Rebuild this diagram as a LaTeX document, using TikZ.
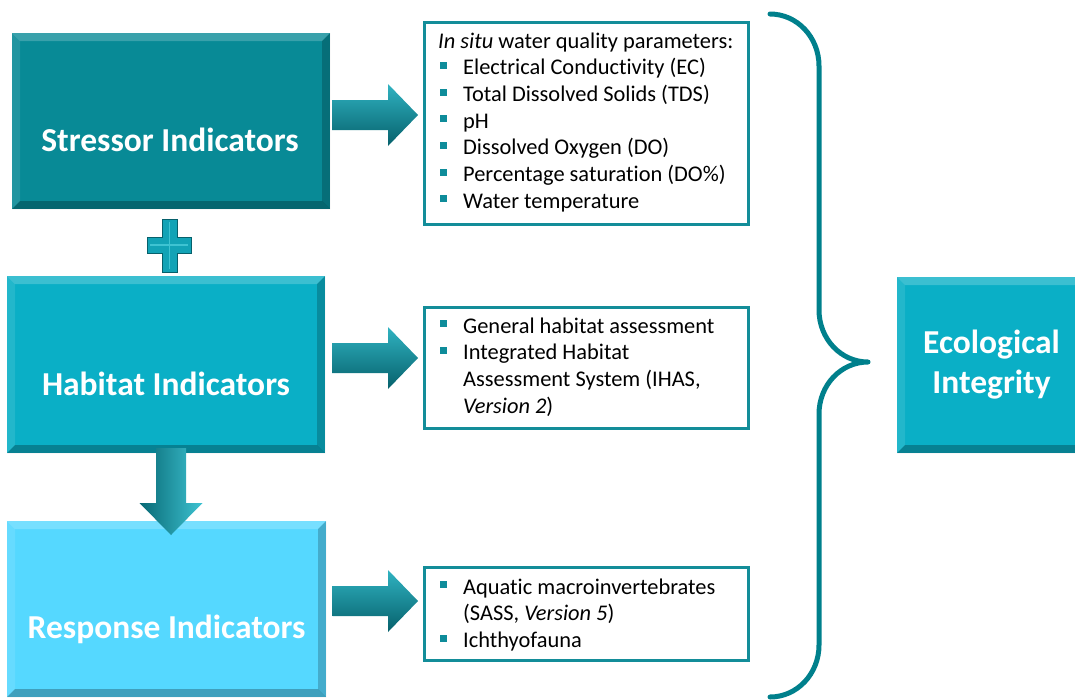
\documentclass[tikz,border=0pt]{standalone}
\usepackage{fontspec}
\setmainfont{Carlito}[Ligatures=NoCommon]
\usetikzlibrary{calc}
\definecolor{stressC}{HTML}{088A96}
\definecolor{habC}{HTML}{0AAFC6}
\definecolor{respC}{HTML}{55D8FF}
\definecolor{ecoC}{HTML}{0AAFC6}
\definecolor{arrC}{HTML}{0E8C9A}
\definecolor{arrL}{HTML}{3EC3D2}
\definecolor{arrD}{HTML}{06606B}
\definecolor{brdC}{HTML}{138D99}
\definecolor{braceC}{HTML}{00808C}
\definecolor{bulC}{HTML}{0E8C9A}
\definecolor{plusC}{HTML}{12A3B6}
\newcommand\itm{\makebox[25pt][l]{\hspace*{1.5pt}\textcolor{bulC}{\rule[6pt]{7pt}{7pt}}}}
\newcommand\cnt{\hspace*{25pt}}
\newcommand\nolig{\kern0pt }
\newcommand\rightblock[2]{%
  \path[rarrow] let \p1=#1, \p2=#2 in
  (\x1,\y1+15pt) -- (\x2-35pt,\y1+15pt) -- (\x2-35pt,\y1+31pt) -- (\x2-5pt,\y1)
  -- (\x2-35pt,\y1-31pt) -- (\x2-35pt,\y1-15pt) -- (\x1,\y1-15pt) -- cycle;}
\newcommand\downblock[2]{%
  \path[darrow] let \p1=#1, \p2=#2 in
  (\x1-15pt,\y1) -- (\x1+15pt,\y1) -- (\x1+15pt,\y2+18pt) -- (\x1+31.5pt,\y2+18pt)
  -- (\x1,\y2-14pt) -- (\x1-31.5pt,\y2+18pt) -- (\x1-15pt,\y2+18pt) -- cycle;}
\tikzset{
  bevelbox/.style={fill=#1, draw=none, inner sep=0pt, outer sep=0pt,
    path picture={
      \fill[white,opacity=.2] (path picture bounding box.north west) -- (path picture bounding box.north east)
        -- ([shift={(-8pt,-8pt)}]path picture bounding box.north east) -- ([shift={(8pt,-8pt)}]path picture bounding box.north west) -- cycle;
      \fill[white,opacity=.1] (path picture bounding box.north west) -- ([shift={(8pt,-8pt)}]path picture bounding box.north west)
        -- ([shift={(8pt,8pt)}]path picture bounding box.south west) -- (path picture bounding box.south west) -- cycle;
      \fill[black,opacity=.2] (path picture bounding box.north east) -- (path picture bounding box.south east)
        -- ([shift={(-8pt,8pt)}]path picture bounding box.south east) -- ([shift={(-8pt,-8pt)}]path picture bounding box.north east) -- cycle;
      \fill[black,opacity=.26] (path picture bounding box.south west) -- (path picture bounding box.south east)
        -- ([shift={(-8pt,8pt)}]path picture bounding box.south east) -- ([shift={(8pt,8pt)}]path picture bounding box.south west) -- cycle;
    }},
  boxlabel/.style={text=white, font=\fontsize{33.5}{40}\selectfont\bfseries, inner sep=0pt, align=center},
  listbox/.style={draw=brdC, line width=3pt, fill=white, inner sep=0pt},
  listtext/.style={font=\fontsize{22.4}{26.7}\selectfont, text=black, inner sep=0pt, align=left, anchor=north west},
  rarrow/.style={top color=arrL!70!arrC, middle color=arrC, bottom color=arrD},
  darrow/.style={left color=arrD!80!arrC, middle color=arrC, right color=arrL},
  bracestyle/.style={draw=braceC, line width=5pt, line cap=round, line join=round},
}
\begin{document}
\begin{tikzpicture}[x=1pt,y=-1pt]
\useasboundingbox (0,0) rectangle (1075,699);
\clip (0,0) rectangle (1075,699);
% main boxes
\node[bevelbox=stressC, minimum width=318pt, minimum height=176pt] (stress) at (171,121) {};
\node[bevelbox=habC, minimum width=318pt, minimum height=177pt] (habitat) at (166,364.5) {};
\node[bevelbox=respC, minimum width=319pt, minimum height=176pt] (response) at (166.5,609) {};
\node[bevelbox=ecoC, minimum width=189pt, minimum height=176pt] (eco) at (991.5,365) {};
\node[boxlabel, anchor=base] (stresslbl) at (170,151) {Stressor Indicators};
\node[boxlabel, anchor=base] (habitatlbl) at (166,395) {Habitat Indicators};
\node[boxlabel, anchor=base] (responselbl) at (166.5,638) {Response Indicators};
\node[boxlabel, anchor=north] (ecolbl) at (991.5,325) {\strut Ecological\\\strut Integrity};
% list boxes
\node[listbox, minimum width=324pt, minimum height=202pt] (list1) at (586.5,123.5) {};
\node[listbox, minimum width=324pt, minimum height=121pt] (list2) at (586.5,368) {};
\node[listbox, minimum width=324pt, minimum height=93pt] (list3) at (586.5,614) {};
\node[listtext] (list1txt) at (438,29.3) {\strut\textit{In situ} water quality parameters:\\
\itm\strut Electrical Conduct\nolig ivity (EC)\\
\itm\strut Total Dissolved Solids (TDS)\\
\itm\strut pH\\
\itm\strut Dissolved Oxygen (DO)\\
\itm\strut Percentage saturat\nolig ion (DO\%)\\
\itm\strut Water temperature};
\node[listtext] (list2txt) at (438,314.3) {\itm\strut General habitat assessment\\
\itm\strut Integrated Habitat\\
\cnt\strut Assessment System (IHAS,\\
\cnt\strut\textit{Version 2})};
\node[listtext] (list3txt) at (438,575.3) {\itm\strut Aquat\nolig ic macroinvertebrates\\
\cnt\strut(SASS, \textit{Version 5})\\
\itm\strut Ichthyofauna};
% block arrows
\rightblock{([shift={(2pt,6pt)}]stress.east)}{(list1.west)}
\rightblock{([shift={(7pt,6.5pt)}]habitat.east)}{(list2.west)}
\rightblock{([shift={(6.5pt,8pt)}]response.east)}{(list3.west)}
\downblock{([shift={(5pt,5pt)}]habitat.south)}{(response.north)}
% plus sign
\path[fill=plusC, draw=arrD, line width=0.6pt]
  (162,219) -- (177,219) -- (177,237) -- (191,237) -- (191,253) -- (177,253)
  -- (177,272) -- (162,272) -- (162,253) -- (147,253) -- (147,237) -- (162,237) -- cycle;
\draw[arrL, line width=1.5pt] (169.5,222) -- (169.5,269) (150,245) -- (188,245);
% brace
\draw[bracestyle] (770,14) .. controls (797,14) and (819,37) .. (819,66)
  -- (819,310) .. controls (819,339) and (841,362) .. (868,362)
  .. controls (841,362) and (819,385) .. (819,414)
  -- (819,645) .. controls (819,674) and (797,697) .. (770,697);
\end{tikzpicture}
\end{document}
